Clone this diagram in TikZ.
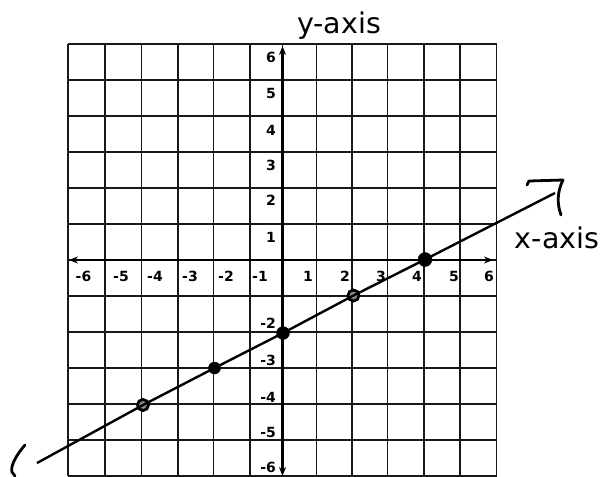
\documentclass[tikz,border=0pt]{standalone}
\usepackage{fontspec}
\setmainfont{DejaVu Sans}
\usetikzlibrary{arrows.meta}
\begin{document}
\begin{tikzpicture}[x=1pt,y=-1pt,
  gridline/.style={line width=1.3pt, black!90},
  axisline/.style={line width=2.4pt, {Stealth[length=9pt,width=7pt]}-{Stealth[length=9pt,width=7pt]}},
  tick/.style={font=\bfseries\fontsize{14}{16}\selectfont, inner sep=0pt},
  axlabel/.style={font=\fontsize{28.5}{32}\selectfont, inner sep=0pt, anchor=base},
  fulldot/.style={circle, fill=black, draw=black, inner sep=0pt, minimum size=13pt},
  ringdot/.style={circle, fill=black!45, draw=black, line width=2.8pt, inner sep=0pt, minimum size=11pt},
  graphline/.style={line width=2.4pt},
  hand/.style={line width=2.8pt, line cap=round, line join=round}]

\useasboundingbox (0,0) rectangle (603,477);
\fill[white] (0,0) rectangle (603,477);

% grid
\foreach \x in {68,105,141.5,178,213.5,250,282.5,316.5,352,387.5,424,460,496.5}
  \draw[gridline] (\x,44) -- (\x,476);
\foreach \y in {44,80,...,476}
  \draw[gridline] (68,\y) -- (496.5,\y);

% axes
\coordinate (ytop) at (282.5,46);
\coordinate (ybot) at (282.5,476);
\coordinate (xleft) at (69,260);
\coordinate (xright) at (493,260);
\draw[axisline] (ybot) -- (ytop);
\draw[axisline] (xleft) -- (xright);

% tick labels x
\foreach \t/\x [count=\i] in {-6/83.5,-5/121,-4/155,-3/190,-2/226,-1/260,1/308,2/345,3/381,4/417,5/454,6/489}
  \node[tick] (xt\i) at (\x,276) {\t};
% tick labels y
\foreach \t/\y [count=\i] in {6/57,5/93,4/130,3/165,2/200,1/237,-2/323,-3/360,-4/397,-5/432,-6/467}
  \node[tick, anchor=east] (yt\i) at (276,\y) {\t};

% axis titles
\node[axlabel] (ylab) at (339,33) {y-axis};
\node[axlabel] (xlab) at (557,248) {x-axis};

% points
\node[ringdot] (pA) at (143,405) {};
\node[fulldot, minimum size=12pt] (pB) at (214.5,368) {};
\node[fulldot] (pC) at (283,333) {};
\node[ringdot] (pD) at (353.5,295.5) {};
\node[fulldot, minimum size=14pt] (pE) at (425,259.5) {};

% graph line
\coordinate (lend) at (37,463);
\coordinate (rend) at (555,193);
\draw[graphline] (lend) -- (pA.center) -- (pB.center) -- (pC.center) -- (pD.center) -- (pE.center) -- (rend);

% hand-drawn marks
\coordinate (h1) at (527,185);
\draw[hand] (h1) -- (529,181) -- (563,180) .. controls (557,192) and (557,204) .. (561,215);
\coordinate (h2) at (25,445);
\draw[hand] (h2) .. controls (17,454) and (10,466) .. (12,472) -- (15,476);
\end{tikzpicture}
\end{document}
